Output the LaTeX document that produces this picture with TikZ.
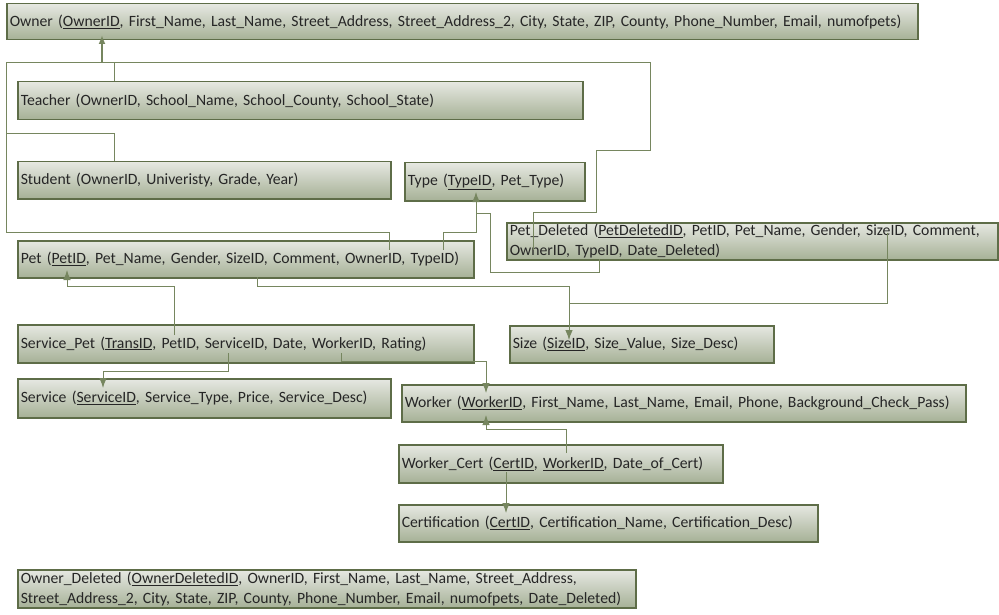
\documentclass[tikz,border=0pt]{standalone}
\usepackage{fontspec}
\setmainfont{Carlito}
\usepackage{tikz}
\usetikzlibrary{arrows.meta,calc}
\definecolor{boxline}{HTML}{5E6D48}
\definecolor{boxtop}{HTML}{E6E8E2}
\definecolor{boxbottom}{HTML}{A6B196}
\definecolor{linkgreen}{HTML}{76865F}

\begin{document}
\begin{tikzpicture}[x=1pt,y=-1pt]
\tikzset{relation/.style = {shape=rectangle,draw=boxline,line width=1.5pt,top color=boxtop,bottom color=boxbottom,anchor=north west,inner xsep=3pt,inner ysep=0pt,align=left,font=\fontsize{15.7}{20}\selectfont,text=black!85}}
\tikzset{link/.style = {draw=linkgreen,line width=0.9pt,> = {Latex[length=10pt,width=7.5pt]}}}
\useasboundingbox (0,0) rectangle (999,615);
\node[relation,text width=905pt,minimum height=36pt] (owner) at (6,3) {Owner (\underline{OwnerID}, First\_Name, Last\_Name, Street\_Address, Street\_Address\_2, City, State, ZIP, County, Phone\_Number, Email, numofpets)};
\node[relation,text width=559pt,minimum height=38pt] (teacher) at (17,81) {Teacher (OwnerID, School\_Name, School\_County, School\_State)};
\node[relation,text width=367pt,minimum height=37pt] (student) at (17,161) {Student (OwnerID, Univeristy, Grade, Year)};
\node[relation,text width=174pt,minimum height=38pt] (type) at (404,162) {Type (\underline{TypeID}, Pet\_Type)};
\node[relation,text width=450pt,minimum height=37pt] (pet) at (17,240) {Pet (\underline{PetID}, Pet\_Name, Gender, SizeID, Comment, OwnerID, TypeID)};
\node[relation,text width=485pt,minimum height=37pt] (petdel) at (506,222) {Pet\_Deleted (\underline{PetDeletedID}, PetID, Pet\_Name, Gender, SizeID, Comment,\\OwnerID, TypeID, Date\_Deleted)};
\node[relation,text width=258pt,minimum height=37pt] (size) at (509,325) {Size (\underline{SizeID}, Size\_Value, Size\_Desc)};
\node[relation,text width=450pt,minimum height=38pt] (servpet) at (17,324) {Service\_Pet (\underline{TransID}, PetID, ServiceID, Date, WorkerID, Rating)};
\node[relation,text width=367pt,minimum height=39pt] (service) at (17,378) {Service (\underline{ServiceID}, Service\_Type, Price, Service\_Desc)};
\node[relation,text width=558pt,minimum height=37pt] (worker) at (401,384) {Worker (\underline{WorkerID}, First\_Name, Last\_Name, Email, Phone, Background\_Check\_Pass)};
\node[relation,text width=318pt,minimum height=38pt] (workcert) at (398,444) {Worker\_Cert (\underline{CertID}, \underline{WorkerID}, Date\_of\_Cert)};
\node[relation,text width=413pt,minimum height=37pt] (cert) at (398,504) {Certification (\underline{CertID}, Certification\_Name, Certification\_Desc)};
\node[relation,text width=612pt,minimum height=38pt] (ownerdel) at (17,569) {Owner\_Deleted (\underline{OwnerDeletedID}, OwnerID, First\_Name, Last\_Name, Street\_Address,\\Street\_Address\_2, City, State, ZIP, County, Phone\_Number, Email, numofpets, Date\_Deleted)};
% owner keys
\coordinate (ownerjoin) at (102,62);
\draw[link] ($(teacher.north west)+(97,0)$) |- (ownerjoin);
\draw[link] ($(student.north west)+(97,0)$) |- (6,133) |- (ownerjoin);
\draw[link] ($(pet.north west)+(372,10)$) |- (6,232) |- (ownerjoin);
\draw[link] ($(petdel.north west)+(27,28)$) |- (596,212) |- (650,150) |- (ownerjoin);
\draw[link,->,line width=1.8pt,> = {Latex[length=9pt,width=7pt]}] (ownerjoin) -- ($(owner.north west)+(96,32)$);
% type
\draw[link,->] ($(pet.north west)+(426,10)$) |- (476,232) -- ($(type.north west)+(72,30)$);
\draw[link] ($(petdel.north west)+(93,37)$) |- (490,272) |- (476,213);
% size
\draw[link,->] ($(pet.north west)+(240,37)$) |- (569,286) -- ($(size.north west)+(60,15)$);
\draw[link] ($(petdel.north west)+(381,11)$) |- (569,303);
% service_pet
\draw[link,->] ($(servpet.north west)+(157,11)$) |- (67,286) -- ($(pet.north west)+(50,30)$);
\draw[link,->] ($(servpet.north west)+(211,29)$) |- (103,371) -- ($(service.north west)+(86,10)$);
\draw[link,->] ($(servpet.north west)+(324,29)$) |- (486,361) -- ($(worker.north west)+(85,9)$);
% worker_cert
\draw[link,->] ($(workcert.north west)+(168,9)$) |- (486,429) -- ($(worker.north west)+(85,31)$);
\draw[link,->] ($(workcert.north west)+(108,28)$) -- ($(cert.north west)+(108,9)$);
\end{tikzpicture}
\end{document}
